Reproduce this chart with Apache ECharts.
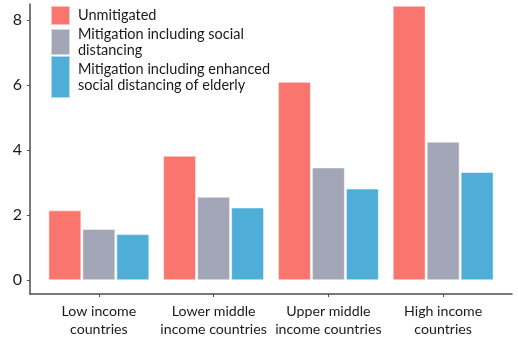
<!DOCTYPE html>
<html>
<head>
<meta charset="utf-8">
<script src="https://cdn.jsdelivr.net/npm/echarts@6/dist/echarts.min.js"></script>
<style>
html,body{margin:0;padding:0;background:#fff;}
#c{width:518px;height:348px;}
</style>
</head>
<body>
<div id="c"></div>
<script>
var categories = ['Low income\ncountries', 'Lower middle\nincome countries', 'Upper middle\nincome countries', 'High income\ncountries'];
var categoryPositions = [1, 2, 3, 4];
var seriesNames = ['Unmitigated', 'Mitigation including social distancing', 'Mitigation including enhanced social distancing of elderly'];
var legendLabels = ['Unmitigated', 'Mitigation including social\ndistancing', 'Mitigation including enhanced\nsocial distancing of elderly'];
var unmitigated = [2.15, 3.83, 6.10, 8.44];
var socialDistancing = [1.58, 2.57, 3.47, 4.26];
var enhancedDistancing = [1.42, 2.24, 2.82, 3.33];
var yTicks = [0, 2, 4, 6, 8];
var colors = ['#F8766D', '#A3A6B6', '#4EAED8'];

var FONT = 'Lato';
var allValues = [unmitigated, socialDistancing, enhancedDistancing];

var chart = echarts.init(document.getElementById('c'), null, {renderer: 'canvas'});

function pairs(vals) {
  return vals.map(function (v, i) { return [categoryPositions[i], v]; });
}

var legendHeights = [19, 26, 42];
var legendTops = [5, 26, 55];
var legends = seriesNames.map(function (name, i) {
  return {
    data: [name],
    left: 50,
    top: legendTops[i],
    padding: 0,
    orient: 'vertical',
    itemWidth: 19,
    itemHeight: legendHeights[i],
    itemGap: 0,
    icon: 'rect',
    selectedMode: false,
    formatter: function () { return legendLabels[i]; },
    textStyle: {fontFamily: FONT, fontSize: 14.5, color: '#1a1a1a', lineHeight: 16, padding: [0, 0, 0, 3]}
  };
});

var option = {
  animation: false,
  backgroundColor: '#fff',
  grid: {left: 30, right: 6, top: 4, bottom: 54, containLabel: false},
  legend: legends,
  xAxis: {
    type: 'value',
    min: 0.4,
    max: 4.6,
    splitLine: {show: false},
    axisLine: {show: true, onZero: false, lineStyle: {color: '#4d4d4d', width: 1.5}},
    axisTick: {show: true, length: 3, customValues: categoryPositions, lineStyle: {color: '#4d4d4d'}},
    axisLabel: {
      show: true,
      customValues: categoryPositions,
      margin: 8,
      fontFamily: FONT,
      fontSize: 14.2,
      lineHeight: 18,
      color: '#1a1a1a',
      formatter: function (v) { return categories[Math.round(v) - 1]; }
    }
  },
  yAxis: {
    type: 'value',
    min: -0.42,
    max: 8.49,
    splitLine: {show: false},
    axisLine: {show: true, onZero: false, lineStyle: {color: '#4d4d4d', width: 1.5}},
    axisTick: {show: true, length: 3, customValues: yTicks, lineStyle: {color: '#4d4d4d'}},
    axisLabel: {
      show: true,
      customValues: yTicks,
      margin: 8,
      fontFamily: FONT,
      fontSize: 16,
      color: '#1a1a1a'
    }
  },
  series: seriesNames.map(function (name, i) {
    return {
      name: name,
      type: 'bar',
      data: pairs(allValues[i]),
      barWidth: 33,
      barGap: '3%',
      itemStyle: {color: colors[i], borderColor: 'rgba(255,255,255,0.55)', borderWidth: 1}
    };
  })
};
chart.setOption(option);
</script>
</body>
</html>
